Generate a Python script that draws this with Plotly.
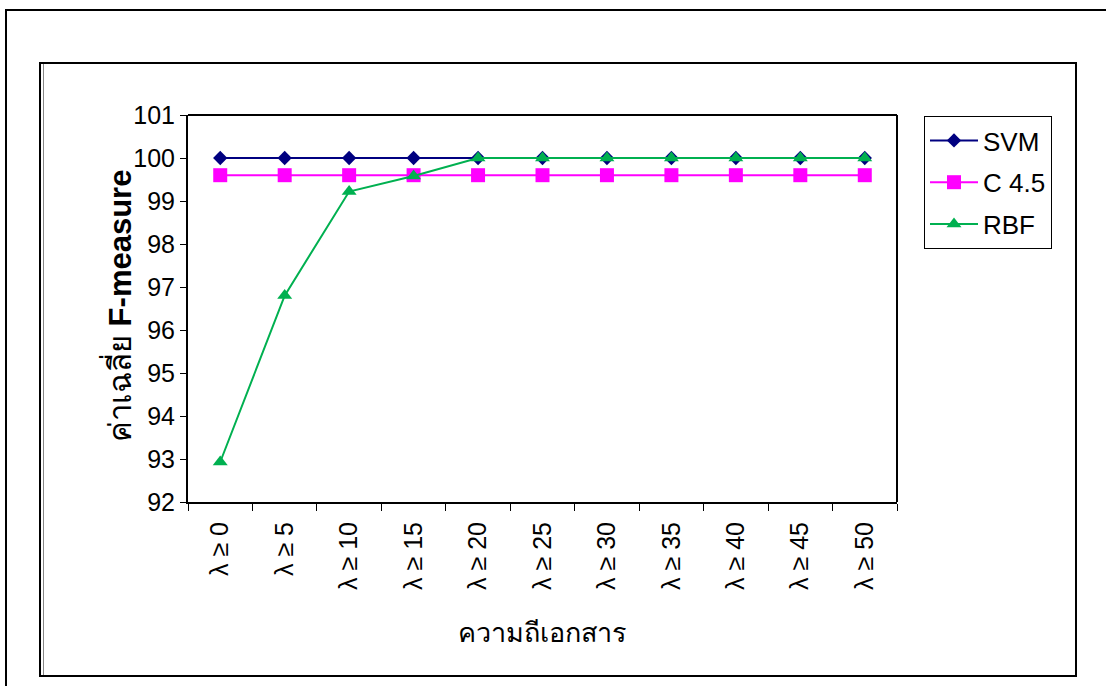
import plotly.graph_objects as go

# Minimum-frequency thresholds (λ) and mean F-measure per classifier
categories = ["λ ≥ 0", "λ ≥ 5", "λ ≥ 10", "λ ≥ 15", "λ ≥ 20", "λ ≥ 25",
              "λ ≥ 30", "λ ≥ 35", "λ ≥ 40", "λ ≥ 45", "λ ≥ 50"]
svm = [100, 100, 100, 100, 100, 100, 100, 100, 100, 100, 100]
c45 = [99.6, 99.6, 99.6, 99.6, 99.6, 99.6, 99.6, 99.6, 99.6, 99.6, 99.6]
rbf = [92.93, 96.8, 99.22, 99.58, 100, 100, 100, 100, 100, 100, 100]
y_ticks = [92, 93, 94, 95, 96, 97, 98, 99, 100, 101]

W, H = 1106, 686
PL, PR, PT, PB = 188, 897, 115, 502   # plot area in pixels
FONT = "Liberation Sans, Arial, sans-serif"

fig = go.Figure()
series = [
    ("SVM", svm, "#000080", "diamond", 11),
    ("C 4.5", c45, "#FF00FF", "square", 14),
    ("RBF", rbf, "#00B050", "triangle-up", 13),
]
for i, (name, vals, col, sym, sz) in enumerate(series):
    fig.add_trace(go.Scatter(
        x=categories, y=vals, name=name, mode="lines+markers",
        line=dict(color=col, width=2),
        marker=dict(symbol=sym, size=sz, color=col, line=dict(width=0)),
        legendgroup=f"g{i}",
    ))


def px_x(p):
    return (p - PL) / (PR - PL)


def px_y(p):
    return (PB - p) / (PB - PT)


shapes = [
    # outer page frame
    dict(type="rect", xref="paper", yref="paper",
         x0=px_x(6), x1=px_x(1110), y0=px_y(10), y1=px_y(690),
         line=dict(color="black", width=2), layer="below"),
    # chart frame (double line on the left)
    dict(type="rect", xref="paper", yref="paper",
         x0=px_x(40), x1=px_x(1076), y0=px_y(63), y1=px_y(676),
         line=dict(color="black", width=2), layer="below"),
    dict(type="line", xref="paper", yref="paper",
         x0=px_x(43.5), x1=px_x(43.5), y0=px_y(64), y1=px_y(675),
         line=dict(color="#888888", width=1), layer="below"),
    # plot-area box (top and right sides)
    dict(type="line", xref="paper", yref="paper",
         x0=0, x1=1, y0=1, y1=1, line=dict(color="black", width=2)),
    dict(type="line", xref="paper", yref="paper",
         x0=1, x1=1, y0=0, y1=1, line=dict(color="black", width=2)),
]

annotations = [
    dict(text="ความถีเอกสาร", xref="paper", yref="paper",
         x=px_x(542), y=px_y(633), xanchor="center", yanchor="middle",
         showarrow=False, font=dict(family=FONT, size=27)),
    dict(text="ค่าเฉลี่ย <b>F-measure</b>", xref="paper", yref="paper",
         x=px_x(118), y=px_y(306), xanchor="center", yanchor="middle",
         textangle=-90, showarrow=False, font=dict(family=FONT, size=31)),
]

fig.update_layout(
    width=W, height=H,
    margin=dict(l=PL, r=W - PR, t=PT, b=H - PB),
    paper_bgcolor="white", plot_bgcolor="white",
    font=dict(family=FONT, size=24, color="black"),
    showlegend=True,
    legend=dict(
        x=px_x(924), y=px_y(116), xanchor="left", yanchor="top",
        bordercolor="black", borderwidth=1, bgcolor="white",
        font=dict(family=FONT, size=26), traceorder="grouped",
        tracegroupgap=5, itemwidth=48,
    ),
    xaxis=dict(
        type="category", range=[-0.5, len(categories) - 0.5],
        showgrid=False, showline=True, linecolor="black", linewidth=2,
        ticks="outside", ticklen=7, tickcolor="black", tickwidth=1,
        tickson="boundaries", tickangle=-90, ticklabelstandoff=8,
        tickfont=dict(family=FONT, size=25),
        fixedrange=True,
    ),
    yaxis=dict(
        range=[92, 101], tickvals=y_ticks,
        showgrid=False, showline=True, linecolor="black", linewidth=2,
        ticks="outside", ticklen=6, tickcolor="black", tickwidth=1,
        tickfont=dict(family=FONT, size=25), zeroline=False,
    ),
    shapes=shapes,
    annotations=annotations,
)

fig.write_html("out.html")
